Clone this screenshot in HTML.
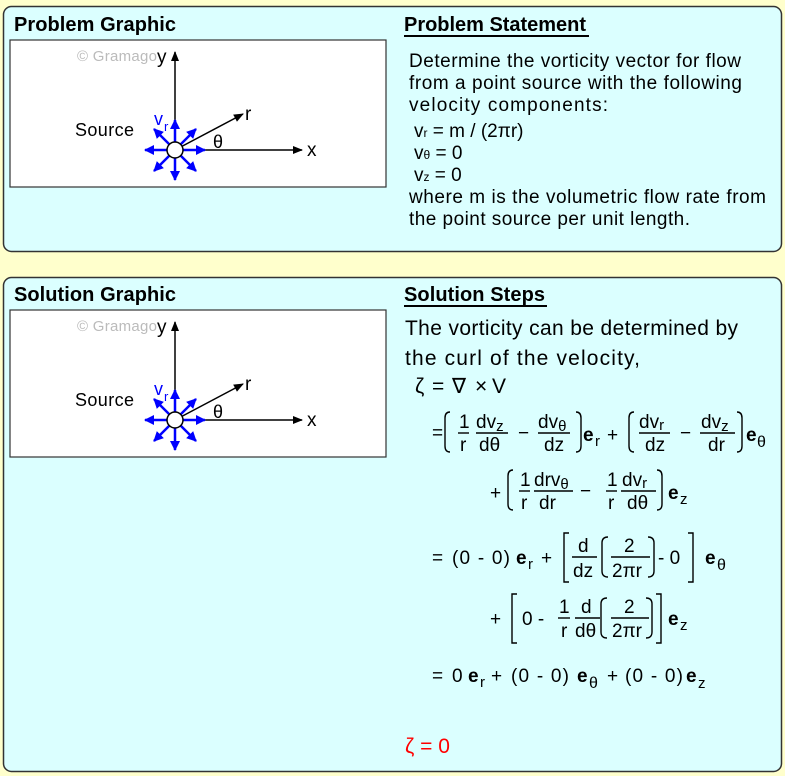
<!DOCTYPE html>
<html><head><meta charset="utf-8"><style>
html,body{margin:0;padding:0;background:#ffffcc;}
svg{display:block;font-family:"Liberation Sans",Arial,sans-serif;}
</style></head><body>
<svg width="785" height="776" viewBox="0 0 785 776" xmlns="http://www.w3.org/2000/svg">
<defs>
<marker id="ab" markerWidth="10" markerHeight="8" refX="9" refY="4" orient="auto" markerUnits="userSpaceOnUse"><path d="M0,0 L10,4 L0,8 Z" fill="#000"/></marker>
<marker id="bb" markerWidth="10" markerHeight="10" refX="9" refY="5" orient="auto" markerUnits="userSpaceOnUse"><path d="M0,0 L10,5 L0,10 Z" fill="#0000ff"/></marker>
<g id="fig">
<rect x="10" y="40" width="376" height="147" fill="#fff" stroke="#333" stroke-width="1.2"/>
<text x="77" y="61" font-size="15" fill="#bbb" textLength="80">© Gramago</text>
<text x="157" y="63" font-size="19">y</text>
<line x1="175" y1="150" x2="175" y2="52" stroke="#000" stroke-width="1.5" marker-end="url(#ab)"/>
<line x1="175" y1="150" x2="302" y2="150" stroke="#000" stroke-width="1.5" marker-end="url(#ab)"/>
<text x="307" y="156" font-size="19">x</text>
<line x1="175" y1="150" x2="243" y2="114" stroke="#000" stroke-width="1.5" marker-end="url(#ab)"/>
<text x="245" y="120" font-size="19">r</text>
<text x="213" y="148" font-size="18">θ</text>
<text x="75" y="136" font-size="18" textLength="59">Source</text>
<text x="154" y="125" font-size="18" fill="#0000ff">v</text>
<text x="164" y="131" font-size="13" fill="#0000ff">r</text>
<g stroke="#0000ff" stroke-width="2.5">
<line x1="175" y1="150" x2="205" y2="150" marker-end="url(#bb)"/>
<line x1="175" y1="150" x2="145" y2="150" marker-end="url(#bb)"/>
<line x1="175" y1="150" x2="175" y2="120" marker-end="url(#bb)"/>
<line x1="175" y1="150" x2="175" y2="180" marker-end="url(#bb)"/>
<line x1="175" y1="150" x2="196" y2="129" marker-end="url(#bb)"/>
<line x1="175" y1="150" x2="154" y2="129" marker-end="url(#bb)"/>
<line x1="175" y1="150" x2="196" y2="171" marker-end="url(#bb)"/>
<line x1="175" y1="150" x2="154" y2="171" marker-end="url(#bb)"/>
</g>
<circle cx="175" cy="150" r="8" fill="#fff" stroke="#000" stroke-width="1.5"/>
</g>
</defs>
<rect x="3.5" y="6.5" width="778" height="245" rx="8" fill="#dbffff" stroke="#333" stroke-width="1.5"/>
<rect x="3.5" y="277.5" width="778" height="494" rx="8" fill="#dbffff" stroke="#333" stroke-width="1.5"/>
<text x="14" y="31" font-size="20" font-weight="bold" textLength="162">Problem Graphic</text>
<text x="404" y="31" font-size="20" font-weight="bold" textLength="182">Problem Statement</text>
<line x1="404" y1="36" x2="589" y2="36" stroke="#000" stroke-width="2"/>
<use href="#fig"/>
<g font-size="19">
<text x="409" y="67" textLength="332">Determine the vorticity vector for flow</text>
<text x="409" y="89" textLength="333">from a point source with the following</text>
<text x="409" y="111" textLength="199">velocity components:</text>
<text x="414" y="137">v<tspan font-size="12">r</tspan> = m / (2πr)</text>
<text x="414" y="159">v<tspan font-size="12">θ</tspan> = 0</text>
<text x="414" y="181">v<tspan font-size="12">z</tspan> = 0</text>
<text x="409" y="203" textLength="357">where m is the volumetric flow rate from</text>
<text x="409" y="225" textLength="281">the point source per unit length.</text>
</g>
<text x="14" y="301" font-size="20" font-weight="bold" textLength="162">Solution Graphic</text>
<text x="404" y="301" font-size="20" font-weight="bold" textLength="141">Solution Steps</text>
<line x1="404" y1="306" x2="547" y2="306" stroke="#000" stroke-width="2"/>
<use href="#fig" y="270"/>
<g font-size="21">
<text x="405" y="335" textLength="333">The vorticity can be determined by</text>
<text x="405" y="365" textLength="235">the curl of the velocity,</text>
<text x="415" y="393">ζ</text><text x="432" y="393">=</text><text x="452" y="393">∇</text><text x="475" y="393">×</text><text x="492" y="393">V</text>
</g>
<g fill="none" stroke="#000" stroke-width="1.4">
<path d="M450,412 Q445,412 445,418 L445,446 Q445,452 450,452"/>
<path d="M576,412 Q581,412 581,418 L581,446 Q581,452 576,452"/>
<path d="M634,412 Q629,412 629,418 L629,446 Q629,452 634,452"/>
<path d="M737,412 Q742,412 742,418 L742,446 Q742,452 737,452"/>
<line x1="458" y1="433" x2="469" y2="433"/><line x1="476" y1="433" x2="508" y2="433"/>
<line x1="538" y1="433" x2="570" y2="433"/><line x1="639" y1="433" x2="670" y2="433"/><line x1="700" y1="433" x2="735" y2="433"/>
<path d="M513,470 Q508,470 508,476 L508,504 Q508,510 513,510"/>
<path d="M657,470 Q662,470 662,476 L662,504 Q662,510 657,510"/>
<line x1="519" y1="491" x2="530" y2="491"/><line x1="534" y1="491" x2="573" y2="491"/>
<line x1="606" y1="491" x2="617" y2="491"/><line x1="621" y1="491" x2="656" y2="491"/>
<path d="M569,533 L564,533 L564,582 L569,582"/>
<path d="M688,533 L693,533 L693,582 L688,582"/>
<line x1="572" y1="557" x2="597" y2="557"/>
<path d="M608,537 Q602,537 602,543 L602,571 Q602,577 608,577"/>
<path d="M648,537 Q654,537 654,543 L654,571 Q654,577 648,577"/>
<line x1="611" y1="557" x2="650" y2="557"/>
<path d="M517,594 L512,594 L512,643 L517,643"/>
<path d="M656,594 L661,594 L661,643 L656,643"/>
<line x1="558" y1="618" x2="570" y2="618"/><line x1="575" y1="618" x2="600" y2="618"/>
<path d="M607,598 Q601,598 601,604 L601,632 Q601,638 607,638"/>
<path d="M646,598 Q652,598 652,604 L652,632 Q652,638 646,638"/>
<line x1="611" y1="618" x2="649" y2="618"/>
</g>
<g font-size="19">
<text x="432" y="439">=</text>
<text x="459" y="428">1</text><text x="460" y="451">r</text>
<text x="476" y="428">dv<tspan font-size="15" dy="3">z</tspan></text><text x="479" y="451">dθ</text>
<text x="518" y="439">−</text>
<text x="538" y="428">dv<tspan font-size="15" dy="3">θ</tspan></text><text x="544" y="451">dz</text>
<text x="583" y="441" font-weight="bold">e</text><text x="595" y="446" font-size="15">r</text>
<text x="607" y="441">+</text>
<text x="639" y="428">dv<tspan font-size="15" dy="2">r</tspan></text><text x="645" y="451">dz</text>
<text x="680" y="439">−</text>
<text x="701" y="428">dv<tspan font-size="15" dy="3">z</tspan></text><text x="708" y="451">dr</text>
<text x="746" y="441" font-weight="bold">e</text><text x="757" y="447" font-size="16">θ</text>
<text x="490" y="499">+</text>
<text x="520" y="486">1</text><text x="521" y="509">r</text>
<text x="534" y="486">drv<tspan font-size="15" dy="3">θ</tspan></text><text x="539" y="509">dr</text>
<text x="580" y="497">−</text>
<text x="607" y="486">1</text><text x="608" y="509">r</text>
<text x="622" y="486">dv<tspan font-size="15" dy="2">r</tspan></text><text x="627" y="509">dθ</text>
<text x="668" y="499" font-weight="bold">e</text><text x="680" y="504" font-size="15">z</text>
<text x="432" y="564">=</text><text x="452" y="564" textLength="58">(0 - 0)</text>
<text x="516" y="564" font-weight="bold">e</text><text x="528" y="569" font-size="15">r</text><text x="541" y="564">+</text>
<text x="578" y="552">d</text><text x="573" y="577">dz</text>
<text x="624" y="552">2</text><text x="612" y="577">2πr</text>
<text x="658" y="564">- 0</text>
<text x="705" y="564" font-weight="bold">e</text><text x="717" y="570" font-size="16">θ</text>
<text x="490" y="625">+</text>
<text x="522" y="625">0 -</text>
<text x="559" y="613">1</text><text x="561" y="637">r</text>
<text x="581" y="613">d</text><text x="575" y="637">dθ</text>
<text x="624" y="613">2</text><text x="612" y="637">2πr</text>
<text x="668" y="625" font-weight="bold">e</text><text x="680" y="630" font-size="15">z</text>
<text x="432" y="682">=</text><text x="452" y="682">0</text>
<text x="468" y="682" font-weight="bold">e</text><text x="480" y="687" font-size="15">r</text>
<text x="491" y="682">+</text>
<text x="511" y="682" textLength="58">(0 - 0)</text>
<text x="577" y="682" font-weight="bold">e</text><text x="589" y="688" font-size="16">θ</text>
<text x="607" y="682">+</text>
<text x="625" y="682" textLength="58">(0 - 0)</text>
<text x="686" y="682" font-weight="bold">e</text><text x="698" y="688" font-size="15">z</text>
</g>
<text x="405" y="753" font-size="21" fill="#ff0000">ζ = 0</text>
</svg>
</body></html>
